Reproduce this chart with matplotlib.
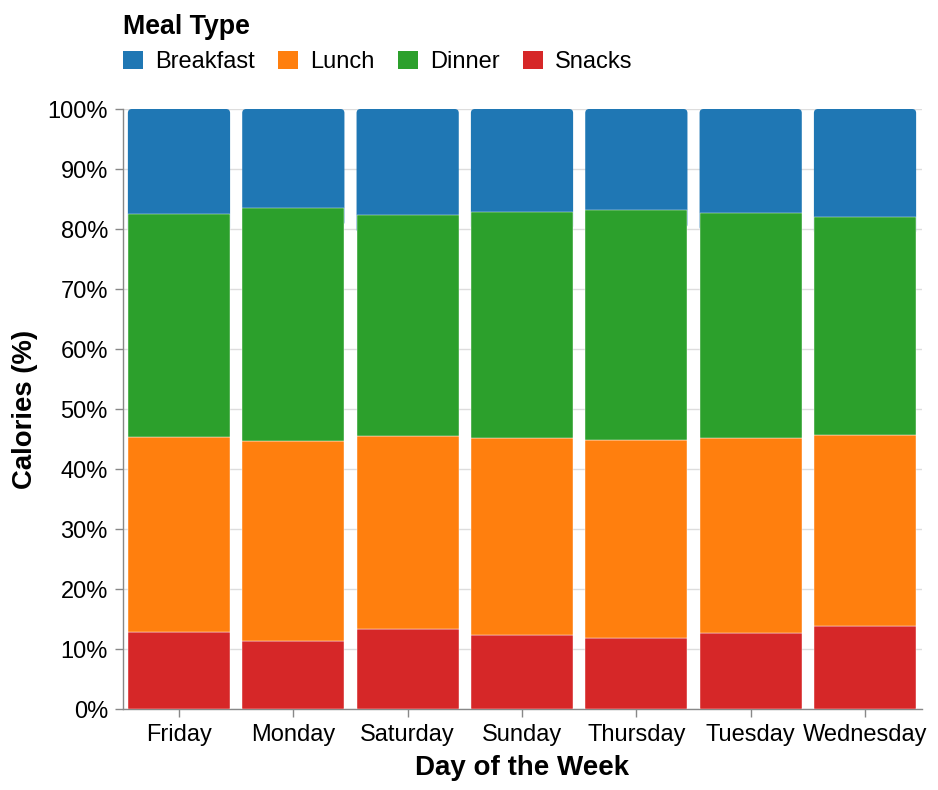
import numpy as np
import matplotlib
matplotlib.use('Agg')
import matplotlib.pyplot as plt
from matplotlib.patches import FancyBboxPatch, Patch

plt.rcParams['font.family'] = ['Liberation Sans', 'DejaVu Sans']

# share of daily calories per meal (percent)
days = ['Friday', 'Monday', 'Saturday', 'Sunday', 'Thursday', 'Tuesday', 'Wednesday']
snacks = [12.9, 11.3, 13.4, 12.4, 11.9, 12.7, 13.8]
lunch = [32.4, 33.4, 32.1, 32.7, 32.9, 32.5, 31.9]
dinner = [37.2, 38.8, 36.8, 37.7, 38.3, 37.5, 36.3]
breakfast = [17.5, 16.5, 17.7, 17.2, 16.9, 17.3, 18.0]

meals = ['Breakfast', 'Lunch', 'Dinner', 'Snacks']
colors = {'Breakfast': '#1f77b4', 'Lunch': '#ff7f0e', 'Dinner': '#2ca02c', 'Snacks': '#d62728'}

data = np.array([snacks, lunch, dinner, breakfast], dtype=float)
data = data / data.sum(axis=0) * 100
stack_order = ['Snacks', 'Lunch', 'Dinner', 'Breakfast']

W, H = 938, 790
fig = plt.figure(figsize=(W / 100, H / 100), dpi=100)
ax = fig.add_axes([122.5 / W, 1 - 709 / H, (921.5 - 122.5) / W, (709 - 109) / H])

x = np.arange(len(days))
bw = 0.894
ax.set_xlim(-0.494, len(days) - 1 + 0.494)
ax.set_ylim(0, 100)

bottom = np.zeros(len(days))
for name, vals in zip(stack_order, data):
    if name == 'Breakfast':
        # rounded top corners: draw a rounded box that dips under the dinner segment
        bb = ax.get_window_extent()
        px_x = bb.width / np.diff(ax.get_xlim())[0]
        aspect = px_x / (bb.height / 100)
        r = 4 / px_x
        for xi, b, v in zip(x, bottom, vals):
            p = FancyBboxPatch((xi - bw / 2, b - 3), bw, v + 3,
                               boxstyle=f'round,pad=0,rounding_size={r}',
                               mutation_aspect=aspect, facecolor=colors[name],
                               edgecolor='none', zorder=2.5)
            ax.add_patch(p)
    else:
        ax.bar(x, vals, bw, bottom=bottom, color=colors[name], zorder=3,
               edgecolor='white', linewidth=0.3)
    bottom += vals

ax.set_xticks(x)
ax.set_xticklabels(days)
yt = np.arange(0, 101, 10)
ax.set_yticks(yt)
ax.set_yticklabels([f'{v}%' for v in yt])
ax.tick_params(axis='both', labelsize=17, color='#888888', length=6, width=1)
ax.tick_params(axis='y', pad=4.5)
ax.tick_params(axis='x', pad=5)
ax.grid(axis='y', color='#dddddd', linewidth=1)
ax.set_axisbelow(True)
for s in ['top', 'right']:
    ax.spines[s].set_visible(False)
for s in ['left', 'bottom']:
    ax.spines[s].set_color('#888888')
    ax.spines[s].set_linewidth(1)

ax.set_xlabel('Day of the Week', fontsize=20, fontweight='bold', labelpad=6)
ax.set_ylabel('Calories (%)', fontsize=19.8, fontweight='bold', labelpad=7)

handles = [Patch(facecolor=colors[m], edgecolor='none') for m in meals]
leg = fig.legend(handles, meals, loc='upper left', bbox_to_anchor=(123 / W, 1 - 14 / H),
                 ncol=4, frameon=False, title='Meal Type', alignment='left',
                 fontsize=17, title_fontproperties={'weight': 'bold', 'size': 19.3},
                 handlelength=0.85, handleheight=0.85, handletextpad=0.5,
                 columnspacing=1.0, borderpad=0, borderaxespad=0, labelspacing=0.45)

fig.savefig('out.png', dpi=100)
